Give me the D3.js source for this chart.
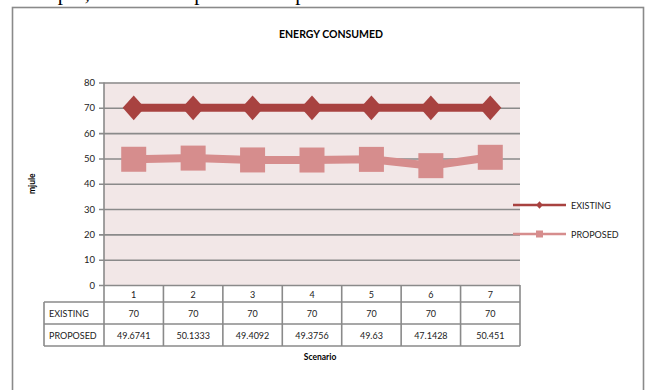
<!DOCTYPE html>
<html>
<head>
<meta charset="utf-8">
<script src="https://cdn.jsdelivr.net/npm/d3@7"></script>
<style>
  html, body { margin: 0; padding: 0; background: #fff; }
  svg { display: block; }
</style>
</head>
<body>
<svg id="chart" width="646" height="390"></svg>
<script>
// Energy consumed per scenario, existing vs proposed scheme
const scenarios = ["1", "2", "3", "4", "5", "6", "7"];
const existing = [70, 70, 70, 70, 70, 70, 70];
const proposed = [49.6741, 50.1333, 49.4092, 49.3756, 49.63, 47.1428, 50.451];
const proposedLabels = ["49.6741", "50.1333", "49.4092", "49.3756", "49.63", "47.1428", "50.451"];
const yTicks = [0, 10, 20, 30, 40, 50, 60, 70, 80];

const series = [
  { name: "EXISTING", values: existing, labels: existing.map(String), color: "#a84240", marker: "diamond" },
  { name: "PROPOSED", values: proposed, labels: proposedLabels, color: "#d68d8d", marker: "square" }
];

const svg = d3.select("#chart");
const font = "Lato, 'Open Sans', sans-serif";
const gridColor = "#8a8a8a";

// Body text line of the surrounding page, running off the top edge
svg.append("text")
  .attr("x", 31).attr("y", 0)
  .attr("font-family", "'Liberation Serif', serif")
  .attr("font-size", 21)
  .attr("fill", "#000")
  .text("output, the and sleep mode of operation.");

// Chart frame
svg.append("rect")
  .attr("x", 12.5).attr("y", 7.5)
  .attr("width", 631).attr("height", 400)
  .attr("fill", "#fff")
  .attr("stroke", gridColor).attr("stroke-width", 1.6);

const plot = { left: 104, right: 520, top: 82.5, bottom: 285 };

const x = d3.scaleBand().domain(scenarios).range([plot.left, plot.right]);
const y = d3.scaleLinear().domain([0, 80]).range([plot.bottom, plot.top]);

// Title
svg.append("text")
  .attr("x", 331).attr("y", 38)
  .attr("text-anchor", "middle")
  .attr("font-family", font).attr("font-weight", "bold").attr("font-size", 10.5)
  .text("ENERGY CONSUMED");

// Plot background
svg.append("rect")
  .attr("x", plot.left).attr("y", plot.top)
  .attr("width", plot.right - plot.left).attr("height", plot.bottom - plot.top)
  .attr("fill", "#f2e7e7");

// Horizontal gridlines with tick stubs on the left
const yAxis = d3.axisLeft(y).tickValues(yTicks)
  .tickSize(-(plot.right - plot.left)).tickSizeOuter(0).tickPadding(9);
const gy = svg.append("g").attr("transform", `translate(${plot.left},0)`).call(yAxis);
gy.select(".domain").remove();
gy.selectAll(".tick line")
  .attr("x1", -5)
  .attr("stroke", gridColor).attr("stroke-width", 1.6);
gy.selectAll(".tick text")
  .attr("font-family", font).attr("font-size", 9.5).attr("fill", "#222");

// Left axis line
svg.append("line")
  .attr("x1", plot.left).attr("x2", plot.left)
  .attr("y1", plot.top).attr("y2", plot.bottom)
  .attr("stroke", gridColor).attr("stroke-width", 1.6);

// Y axis title
svg.append("text")
  .attr("transform", `translate(35,${(plot.top + plot.bottom) / 2}) rotate(-90)`)
  .attr("text-anchor", "middle")
  .attr("font-family", font).attr("font-weight", "bold").attr("font-size", 8.5)
  .text("mjule");

// Series lines and markers
const cx = d => x(d) + x.bandwidth() / 2;
const line = d3.line().x((d, i) => cx(scenarios[i])).y(d => y(d));

function drawMarker(g, type, px, py, size, color) {
  if (type === "diamond") {
    const w = size * 0.48, h = size * 0.54;
    g.append("path")
      .attr("d", `M${px - w},${py} L${px},${py - h} L${px + w},${py} L${px},${py + h} Z`)
      .attr("fill", color);
  } else {
    g.append("rect")
      .attr("x", px - size / 2).attr("y", py - size / 2)
      .attr("width", size).attr("height", size)
      .attr("fill", color);
  }
}

series.slice().reverse().forEach(s => {
  const g = svg.append("g");
  g.append("path")
    .datum(s.values)
    .attr("d", line)
    .attr("fill", "none")
    .attr("stroke", s.color).attr("stroke-width", 8);
  s.values.forEach((v, i) => {
    drawMarker(g, s.marker, cx(scenarios[i]), y(v), s.marker === "diamond" ? 23 : 25, s.color);
  });
});

// Data table under the plot
const rowTops = [285, 302, 324, 346];
const tableLeft = 44;
const tb = svg.append("g");
const cellText = (tx, ty, str, anchor) => tb.append("text")
  .attr("x", tx).attr("y", ty)
  .attr("text-anchor", anchor || "middle")
  .attr("dominant-baseline", "central")
  .attr("font-family", font).attr("font-size", 9).attr("fill", "#222")
  .text(str);

scenarios.forEach(c => cellText(cx(c), (rowTops[0] + rowTops[1]) / 2 + 1, c));
series.forEach((s, r) => {
  const mid = (rowTops[r + 1] + rowTops[r + 2]) / 2;
  cellText(tableLeft + 5, mid, s.name, "start");
  scenarios.forEach((c, i) => cellText(cx(c), mid, s.labels[i]));
});

const border = (x1, y1, x2, y2) => tb.append("line")
  .attr("x1", x1).attr("y1", y1).attr("x2", x2).attr("y2", y2)
  .attr("stroke", gridColor).attr("stroke-width", 1.6);

border(plot.left, rowTops[1], plot.right, rowTops[1]);
border(tableLeft, rowTops[1], plot.left, rowTops[1]);
border(tableLeft, rowTops[2], plot.right, rowTops[2]);
border(tableLeft, rowTops[3], plot.right, rowTops[3]);
border(tableLeft, rowTops[1], tableLeft, rowTops[3]);
border(plot.left, rowTops[0], plot.left, rowTops[3]);
scenarios.forEach(c => border(x(c) + x.bandwidth(), rowTops[0], x(c) + x.bandwidth(), rowTops[3]));

// X axis title
svg.append("text")
  .attr("x", 320).attr("y", 360)
  .attr("text-anchor", "middle")
  .attr("font-family", font).attr("font-weight", "bold").attr("font-size", 8.5)
  .text("Scenario");

// Legend
const legend = svg.append("g");
series.forEach((s, i) => {
  const ly = 205 + i * 29;
  legend.append("line")
    .attr("x1", 513).attr("x2", 566).attr("y1", ly).attr("y2", ly)
    .attr("stroke", s.color).attr("stroke-width", 2.5);
  drawMarker(legend, s.marker, 539.5, ly, 7, s.color);
  legend.append("text")
    .attr("x", 571).attr("y", ly)
    .attr("dominant-baseline", "central")
    .attr("font-family", font).attr("font-size", 9).attr("fill", "#222")
    .text(s.name);
});
</script>
</body>
</html>
